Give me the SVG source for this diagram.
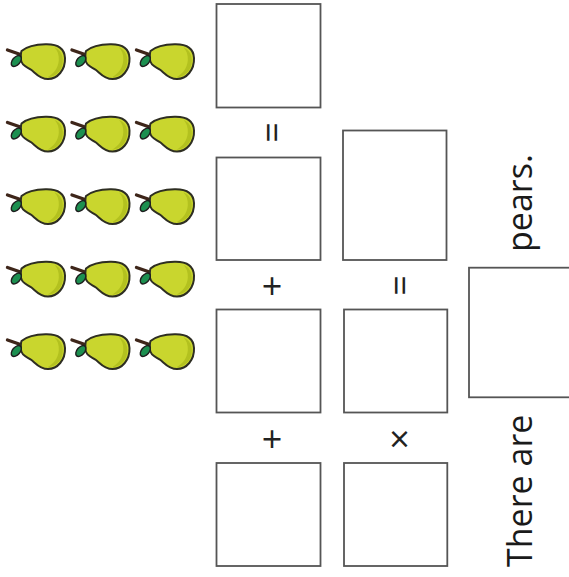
<svg xmlns="http://www.w3.org/2000/svg" xmlns:xlink="http://www.w3.org/1999/xlink" width="569" height="577" viewBox="0 0 569 577">
  <style>
    .box { fill: #ffffff; stroke: #555555; stroke-width: 1.8; }
    .op { font-family: "Open Sans", "Liberation Sans", sans-serif; font-size: 36px; font-weight: 500; fill: #222222; text-anchor: middle; }
    .txt { font-family: "Open Sans", "Liberation Sans", sans-serif; font-size: 34px; font-weight: 500; fill: #1a1a1a; }
  </style>
  <defs>
    <g id="pear">
      <line x1="-13" y1="6" x2="0" y2="10.5" stroke="#3e261a" stroke-width="3.4" stroke-linecap="round"/>
      <path d="M 1,7 C 7,2 16,0.5 25,0.3 C 36,0 44,4 44.5,14 C 45,26 37,35 27.5,35 C 19,35 15,29 11,26 C 7,23 1,22 0.5,16 C 0.2,12 0.3,9 1,7 Z" fill="#c9d62e" stroke="#2e2e22" stroke-width="2"/>
      <path d="M 34,3.5 C 40,6 42.5,11 42.3,17 C 42,26 36,32.5 27,33.3 C 33.5,29.5 37.8,24 38.3,16 C 38.6,10.5 37,6.5 34,3.5 Z" fill="#b3c11f"/>
      <ellipse cx="-4.2" cy="17" rx="6.4" ry="3.8" transform="rotate(-50 -4.2 17)" fill="#1c8f50" stroke="#1e1e1e" stroke-width="1.4"/>
    </g>
  </defs>
  <rect width="569" height="577" fill="#ffffff"/>

  <g id="pears">
    <use xlink:href="#pear" href="#pear" transform="translate(20.5,44)"/>
    <use xlink:href="#pear" href="#pear" transform="translate(85,44)"/>
    <use xlink:href="#pear" href="#pear" transform="translate(149.5,44)"/>
    <use xlink:href="#pear" href="#pear" transform="translate(20.5,116.5)"/>
    <use xlink:href="#pear" href="#pear" transform="translate(85,116.5)"/>
    <use xlink:href="#pear" href="#pear" transform="translate(149.5,116.5)"/>
    <use xlink:href="#pear" href="#pear" transform="translate(20.5,189)"/>
    <use xlink:href="#pear" href="#pear" transform="translate(85,189)"/>
    <use xlink:href="#pear" href="#pear" transform="translate(149.5,189)"/>
    <use xlink:href="#pear" href="#pear" transform="translate(20.5,261.5)"/>
    <use xlink:href="#pear" href="#pear" transform="translate(85,261.5)"/>
    <use xlink:href="#pear" href="#pear" transform="translate(149.5,261.5)"/>
    <use xlink:href="#pear" href="#pear" transform="translate(20.5,334)"/>
    <use xlink:href="#pear" href="#pear" transform="translate(85,334)"/>
    <use xlink:href="#pear" href="#pear" transform="translate(149.5,334)"/>
  </g>

  <g id="box-a1"><rect class="box" x="216.5" y="4" width="104" height="103.5"/></g>
  <g id="box-a2"><rect class="box" x="216.5" y="157.5" width="104" height="102.5"/></g>
  <g id="box-a3"><rect class="box" x="216.5" y="309.5" width="104" height="103"/></g>
  <g id="box-a4"><rect class="box" x="216.5" y="463" width="104" height="103"/></g>
  <g id="box-b1"><rect class="box" x="343" y="130.5" width="103.5" height="129.5"/></g>
  <g id="box-b2"><rect class="box" x="344" y="309.5" width="103.3" height="103"/></g>
  <g id="box-b3"><rect class="box" x="344" y="463" width="103.3" height="103"/></g>
  <g id="box-answer"><rect class="box" x="469" y="267.7" width="120" height="129.6"/></g>

  <g id="operators">
    <text class="op" transform="translate(271.5,132.5) rotate(-90)" x="0" y="13">=</text>
    <text class="op" x="272" y="298.5">+</text>
    <text class="op" transform="translate(399.5,285.5) rotate(-90)" x="0" y="13">=</text>
    <text class="op" x="272" y="452">+</text>
    <text class="op" x="399.5" y="452">×</text>
  </g>

  <g id="sentence">
    <text class="txt" transform="translate(532,567) rotate(-90)" x="0" y="0">There are</text>
    <text class="txt" transform="translate(532,252) rotate(-90)" x="0" y="0">pears.</text>
  </g>
</svg>
